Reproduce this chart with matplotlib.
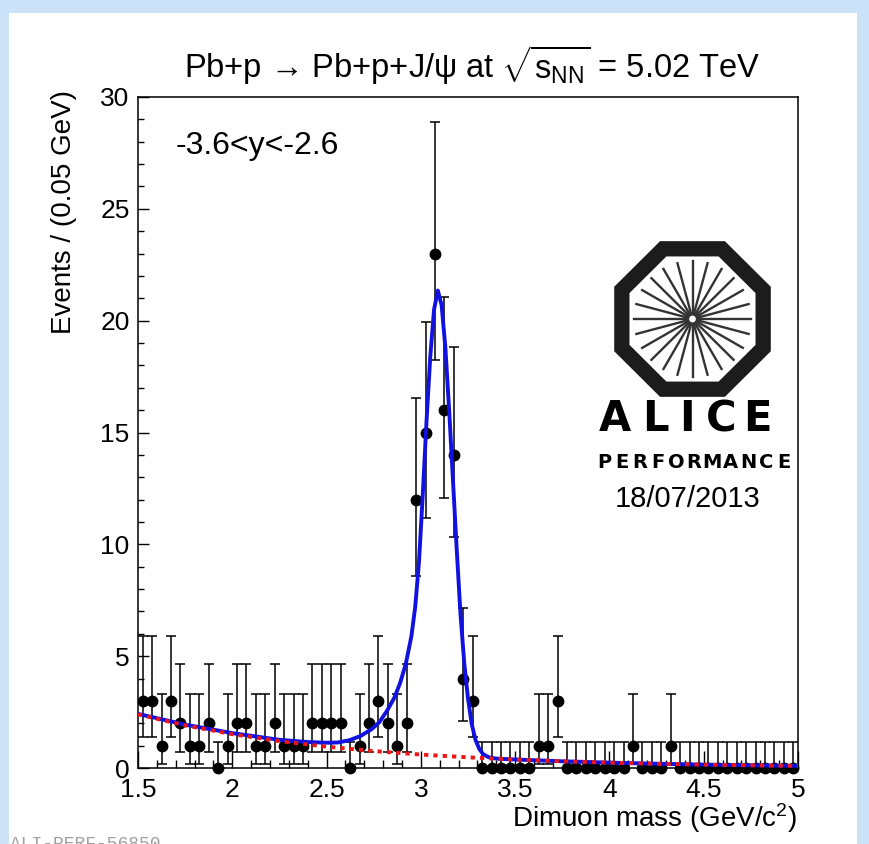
import numpy as np
import matplotlib
matplotlib.use('Agg')
import matplotlib.pyplot as plt
from matplotlib.ticker import MultipleLocator
from matplotlib.patches import Rectangle, Polygon

plt.rcParams['font.family'] = ['Liberation Sans', 'DejaVu Sans']
plt.rcParams['mathtext.fontset'] = 'custom'
plt.rcParams['mathtext.rm'] = 'Liberation Sans'
plt.rcParams['mathtext.it'] = 'Liberation Sans:italic'
plt.rcParams['mathtext.sf'] = 'Liberation Sans'

# histogram: 70 bins of 0.05 GeV between 1.5 and 5
m_lo, m_hi, bin_w = 1.5, 5.0, 0.05
counts = [3, 3, 1, 3, 2, 1, 1, 2, 0, 1,
          2, 2, 1, 1, 2, 1, 1, 1, 2, 2,
          2, 2, 0, 1, 2, 3, 2, 1, 2, 12,
          15, 23, 16, 14, 4, 3, 0, 0, 0, 0,
          0, 0, 1, 1, 3, 0, 0, 0, 0, 0,
          0, 0, 1, 0, 0, 0, 1, 0, 0, 0,
          0, 0, 0, 0, 0, 0, 0, 0, 0, 0]

# poisson intervals (lower, upper) as drawn for each count
poisson_band = {0: (0.0, 1.148), 1: (0.173, 3.30), 2: (0.708, 4.64),
                3: (1.37, 5.92), 4: (2.09, 7.16), 12: (8.59, 16.55),
                14: (10.31, 18.83), 15: (11.17, 19.95), 16: (12.05, 21.08),
                23: (18.24, 28.86)}

# total fit (blue)
fit_m = [1.50, 1.75, 2.00, 2.25, 2.40, 2.50, 2.56, 2.62, 2.68, 2.74,
         2.78, 2.82, 2.86, 2.89, 2.92, 2.95, 2.97, 2.99, 3.01, 3.03,
         3.05, 3.07, 3.09, 3.11, 3.13, 3.15, 3.17, 3.19, 3.21, 3.23,
         3.25, 3.27, 3.29, 3.31, 3.33, 3.36, 3.40, 3.50, 3.75, 4.00,
         4.25, 4.50, 4.75, 5.00]
fit_total = [2.42, 1.94, 1.56, 1.26, 1.16, 1.13, 1.14, 1.24, 1.43, 1.74,
             2.05, 2.55, 3.15, 3.80, 4.65, 5.90, 7.20, 9.20, 12.2, 15.5,
             18.4, 20.5, 21.35, 20.7, 18.8, 16.0, 12.9, 9.8, 6.9, 4.7,
             3.1, 1.95, 1.25, 0.85, 0.62, 0.48, 0.42, 0.38, 0.30, 0.24,
             0.19, 0.15, 0.12, 0.095]

# background component (red dotted)
bkg_m = [1.50, 1.75, 2.00, 2.25, 2.50, 2.75, 3.00, 3.25, 3.50, 3.75,
         4.00, 4.25, 4.50, 4.75, 5.00]
bkg_vals = [2.40, 1.905, 1.513, 1.201, 0.954, 0.757, 0.601, 0.477, 0.379,
            0.301, 0.239, 0.190, 0.151, 0.120, 0.095]

xticks = [1.5, 2, 2.5, 3, 3.5, 4, 4.5, 5]
xticklabels = ['1.5', '2', '2.5', '3', '3.5', '4', '4.5', '5']
yticks = [0, 5, 10, 15, 20, 25, 30]

W, H = 869, 844
fig = plt.figure(figsize=(W / 100, H / 100), dpi=100)
fig.patch.set_facecolor('#cbe2f9')
fig.patches.append(Rectangle((9 / W, 0), (857 - 9) / W, (H - 13) / H,
                             transform=fig.transFigure, facecolor='white',
                             edgecolor='none', zorder=-10))

ax = fig.add_axes([138 / W, 1 - 768 / H, 660 / W, 671 / H])
ax.set_facecolor('none')

mass = m_lo + bin_w * (np.arange(len(counts)) + 0.5)
cnt = np.array(counts, dtype=float)
lo = np.array([poisson_band[c][0] for c in counts])
hi = np.array([poisson_band[c][1] for c in counts])
ax.errorbar(mass, cnt, yerr=[cnt - lo, hi - cnt], fmt='o', color='black',
            ms=7.5, elinewidth=1.1, capsize=3.6, capthick=1.1,
            clip_on=False, zorder=3)

ax.plot(fit_m, fit_total, color='#1212e0', lw=2.8, zorder=4,
        solid_joinstyle='round')
ax.plot(bkg_m, bkg_vals, color='#ee1515', lw=2.8,
        linestyle=(0, (1.1, 1.3)), zorder=5)

ax.set_xlim(m_lo, m_hi)
ax.set_ylim(0, 30)
ax.set_xticks(xticks)
ax.set_xticklabels(xticklabels)
ax.set_yticks(yticks)
ax.xaxis.set_minor_locator(MultipleLocator(0.1))
ax.yaxis.set_minor_locator(MultipleLocator(1))
ax.tick_params(which='both', direction='in', top=False, right=False)
ax.tick_params(axis='x', which='major', length=12, width=1, pad=7, labelsize=19)
ax.tick_params(axis='x', which='minor', length=6, width=1)
ax.tick_params(axis='y', which='major', length=8, width=1, pad=6, labelsize=19)
ax.tick_params(axis='y', which='minor', length=4.5, width=1)
for s in ax.spines.values():
    s.set_linewidth(1.1)

fig.text(472 / W, 1 - 65 / H,
         r'Pb+p → Pb+p+J/ψ at $\sqrt{\mathrm{s}_{\mathrm{NN}}}$ = 5.02 TeV',
         ha='center', va='center', fontsize=23.5)
fig.text(64 / W, 1 - 90 / H, 'Events / (0.05 GeV)', rotation=90,
         ha='center', va='top', fontsize=20)
fig.text(797 / W, 1 - 801 / H, r'Dimuon mass (GeV/c$^{2}$)',
         ha='right', va='top', fontsize=20)
ax.text((176 - 138) / 660, (768 - 146) / 671, '-3.6<y<-2.6',
        transform=ax.transAxes, ha='left', va='center', fontsize=23)

# ALICE performance logo
lax = fig.add_axes([614 / W, 1 - 397 / H, 157 / W, 156 / H])
lax.set_xlim(-1, 1)
lax.set_ylim(-1, 1)
lax.axis('off')
ang = np.pi / 8 + np.arange(8) * np.pi / 4
r = 0.9 / np.cos(np.pi / 8)
lax.add_patch(Polygon(np.c_[r * np.cos(ang), r * np.sin(ang)], closed=True,
                      facecolor='none', edgecolor='#1c1c1c', lw=11,
                      joinstyle='miter'))
for a in np.arange(24) * np.pi / 12:
    lax.plot([0.06 * np.cos(a), 0.74 * np.cos(a)],
             [0.06 * np.sin(a), 0.74 * np.sin(a)], color='#333333', lw=1.7)

for ch, xc in zip('ALICE', [615, 655, 687, 721, 757]):
    fig.text(xc / W, 1 - 419 / H, ch, ha='center', va='center',
             fontsize=30, fontweight='bold', family='DejaVu Sans')
for k, ch in enumerate('PERFORMANCE'):
    fig.text((604 + 18 * k) / W, 1 - 463 / H, ch, ha='center',
             va='center', fontsize=14, fontweight='bold', family='DejaVu Sans')
fig.text(688 / W, 1 - 499 / H, '18/07/2013', ha='center', va='center',
         fontsize=21)

fig.text(10 / W, 1 - 836 / H, 'ALI-PERF-56850', ha='left', va='top',
         fontsize=13, color='#a0a0a0', family='Liberation Mono')

fig.savefig('out.png', dpi=100, facecolor=fig.get_facecolor())
